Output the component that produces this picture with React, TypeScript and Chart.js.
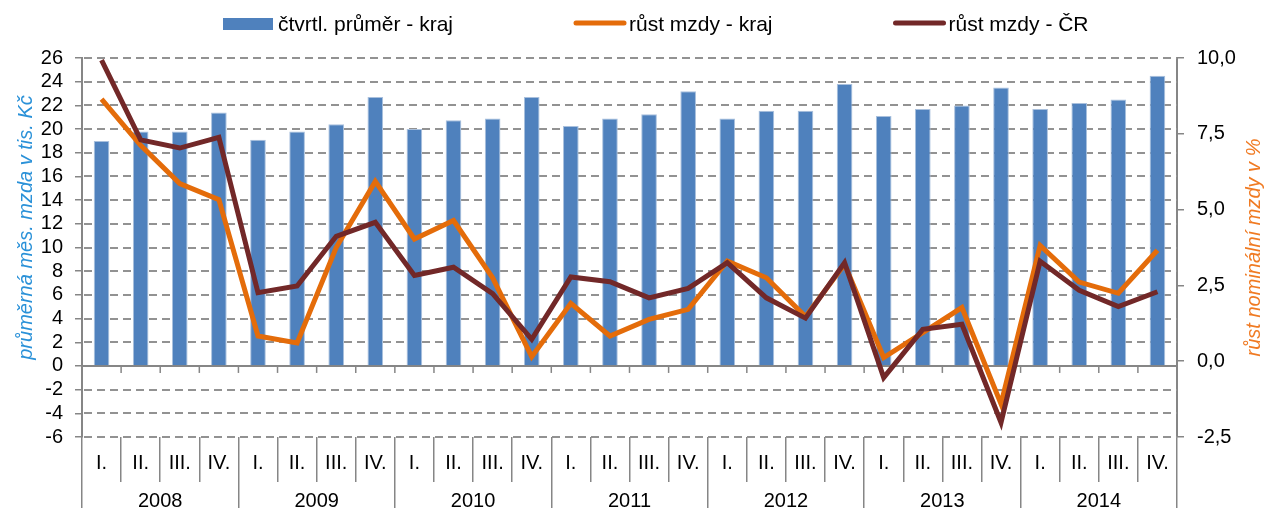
import React, { useEffect, useRef } from 'react';
import { Chart, registerables } from 'chart.js';

Chart.register(...registerables);

const FONT = '"Liberation Sans", Arial, sans-serif';

const quarters = [
  'I.', 'II.', 'III.', 'IV.', 'I.', 'II.', 'III.', 'IV.', 'I.', 'II.', 'III.', 'IV.', 'I.', 'II.',
  'III.', 'IV.', 'I.', 'II.', 'III.', 'IV.', 'I.', 'II.', 'III.', 'IV.', 'I.', 'II.', 'III.', 'IV.',
];
const years = ['2008', '2009', '2010', '2011', '2012', '2013', '2014'];

// čtvrtletní průměrná mzda v kraji (tis. Kč)
const avgWageRegion = [
  19.0, 19.8, 19.8, 21.4,
  19.1, 19.8, 20.4, 22.7,
  20.0, 20.75, 20.9, 22.7,
  20.25, 20.9, 21.25, 23.2,
  20.9, 21.55, 21.55, 23.8,
  21.1, 21.7, 22.0, 23.5,
  21.7, 22.2, 22.5, 24.5,
];
// růst mzdy – kraj (%)
const growthRegion = [
  8.64, 7.12, 5.86, 5.33,
  0.83, 0.6, 3.75, 5.93,
  4.03, 4.64, 2.75, 0.15,
  1.91, 0.83, 1.38, 1.71,
  3.3, 2.75, 1.47, 3.2,
  0.12, 0.94, 1.77, -1.41,
  3.82, 2.61, 2.24, 3.66,
];
// růst mzdy – ČR (%)
const growthCR = [
  9.93, 7.3, 7.03, 7.38,
  2.26, 2.48, 4.12, 4.58,
  2.83, 3.1, 2.23, 0.72,
  2.78, 2.62, 2.09, 2.4,
  3.25, 2.09, 1.42, 3.25,
  -0.54, 1.05, 1.22, -2.02,
  3.3, 2.34, 1.8, 2.29,
];

const seriesLabels = ['čtvrtl. průměr - kraj', 'růst mzdy - kraj', 'růst mzdy - ČR'];
const leftTitle = 'průměrná měs. mzda v tis. Kč';
const rightTitle = 'růst nominální mzdy v %';

const BAR_BLUE = '#4F81BD';
const ORANGE = '#E46C0A';
const BROWN = '#722828';
const AXIS_GREY = '#868686';
const GRID_GREY = '#929292';

const extrasPlugin = {
  id: 'extras',
  beforeDatasetsDraw(chart: any) {
    const { ctx, chartArea } = chart;
    const xs = chart.scales.x;
    const ys = chart.scales.y;
    const y0 = ys.getPixelForValue(0);
    const n = xs.ticks.length;
    ctx.save();
    // dashed horizontal grid lines at the left-axis ticks
    ctx.strokeStyle = GRID_GREY;
    ctx.lineWidth = 2;
    ctx.setLineDash([8, 5]);
    ys.ticks.forEach((t: any) => {
      if (t.value === 0) return;
      const y = Math.round(ys.getPixelForValue(t.value));
      ctx.beginPath();
      ctx.moveTo(chartArea.left + 2, y);
      ctx.lineTo(chartArea.right, y);
      ctx.stroke();
    });
    ctx.setLineDash([]);
    // solid zero axis line
    ctx.strokeStyle = AXIS_GREY;
    ctx.lineWidth = 2;
    ctx.beginPath();
    ctx.moveTo(chartArea.left, y0);
    ctx.lineTo(chartArea.right, y0);
    ctx.stroke();
    // tick marks on the zero line
    ctx.lineWidth = 1.5;
    for (let i = 0; i <= n; i++) {
      const x = xs.getPixelForValue(i - 0.5);
      ctx.beginPath();
      ctx.moveTo(x, y0);
      ctx.lineTo(x, y0 + 7);
      ctx.stroke();
    }
    ctx.restore();
  },
  afterDraw(chart: any) {
    const { ctx, chartArea } = chart;
    ctx.save();
    // legend
    ctx.font = `21px ${FONT}`;
    ctx.textBaseline = 'middle';
    ctx.textAlign = 'left';
    const ly = 24;
    let x = 223;
    chart.data.datasets.forEach((ds: any) => {
      if (ds.type === 'bar') {
        ctx.fillStyle = ds.backgroundColor;
        ctx.fillRect(x, ly - 6, 50, 12);
      } else {
        ctx.strokeStyle = ds.borderColor;
        ctx.lineWidth = 5;
        ctx.lineCap = 'round';
        ctx.beginPath();
        ctx.moveTo(x + 2, ly - 1);
        ctx.lineTo(x + 50, ly - 1);
        ctx.stroke();
      }
      ctx.fillStyle = '#000';
      ctx.fillText(ds.label, x + 55, ly + 1);
      x += 55 + ctx.measureText(ds.label).width + 121;
    });
    // axis titles
    const midY = (chartArea.top + chartArea.bottom) / 2;
    ctx.font = `italic 20px ${FONT}`;
    ctx.textAlign = 'center';
    ctx.textBaseline = 'middle';
    ctx.fillStyle = '#2A91D8';
    ctx.translate(26, midY - 20);
    ctx.rotate(-Math.PI / 2);
    ctx.fillText(leftTitle, 0, 0);
    ctx.restore();
    ctx.save();
    ctx.font = `italic 20px ${FONT}`;
    ctx.textAlign = 'center';
    ctx.textBaseline = 'middle';
    ctx.fillStyle = '#F07A22';
    ctx.translate(1254, midY);
    ctx.rotate(-Math.PI / 2);
    ctx.fillText(rightTitle, 0, 0);
    ctx.restore();
  },
};

export default function App() {
  const canvasRef = useRef<HTMLCanvasElement | null>(null);

  useEffect(() => {
    document.body.style.margin = '0';
    const canvas = canvasRef.current;
    if (!canvas) return;
    Chart.defaults.font.family = FONT;

    const chart = new Chart(canvas, {
      data: {
        labels: quarters,
        datasets: [
          {
            type: 'bar',
            label: seriesLabels[0],
            data: avgWageRegion,
            backgroundColor: BAR_BLUE,
            borderColor: '#A9C0DD',
            borderWidth: 1,
            barPercentage: 0.4,
            categoryPercentage: 1,
            yAxisID: 'y',
            xAxisID: 'x',
            order: 3,
          },
          {
            type: 'line',
            label: seriesLabels[1],
            data: growthRegion,
            borderColor: ORANGE,
            backgroundColor: ORANGE,
            borderWidth: 5,
            pointRadius: 0,
            tension: 0,
            yAxisID: 'y1',
            xAxisID: 'x',
            order: 2,
          },
          {
            type: 'line',
            label: seriesLabels[2],
            data: growthCR,
            borderColor: BROWN,
            backgroundColor: BROWN,
            borderWidth: 5,
            pointRadius: 0,
            tension: 0,
            yAxisID: 'y1',
            xAxisID: 'x',
            order: 1,
          },
        ],
      } as any,
      options: {
        responsive: false,
        animation: false,
        layout: { padding: { top: 58, left: 0, right: 0, bottom: 0 } },
        plugins: {
          legend: { display: false },
          tooltip: { enabled: false },
        },
        scales: {
          x: {
            type: 'category',
            position: 'bottom',
            offset: true,
            weight: 0,
            grid: {
              offset: true,
              drawOnChartArea: false,
              drawTicks: true,
              tickLength: 45,
              color: AXIS_GREY,
              lineWidth: 1.5,
            },
            border: { display: false },
            ticks: {
              autoSkip: false,
              maxRotation: 0,
              minRotation: 0,
              padding: -31,
              color: '#000',
              font: { size: 20, family: FONT },
            },
            afterFit: (s: any) => {
              s.height = 45;
            },
          },
          x2: {
            type: 'category',
            position: 'bottom',
            labels: years,
            offset: true,
            weight: 1,
            grid: {
              offset: true,
              drawOnChartArea: false,
              drawTicks: true,
              tickLength: 26,
              color: AXIS_GREY,
              lineWidth: 1.5,
            },
            border: { display: false },
            ticks: {
              autoSkip: false,
              maxRotation: 0,
              minRotation: 0,
              padding: -19,
              color: '#000',
              font: { size: 20, family: FONT },
            },
            afterFit: (s: any) => {
              s.height = 26;
            },
          },
          y: {
            type: 'linear',
            position: 'left',
            min: -6,
            max: 26,
            ticks: {
              stepSize: 2,
              autoSkip: false,
              padding: 12,
              color: '#000',
              font: { size: 20, family: FONT },
            },
            grid: {
              drawOnChartArea: false,
              drawTicks: true,
              tickLength: 7,
              color: AXIS_GREY,
              lineWidth: 1.5,
            },
            border: { display: true, color: AXIS_GREY, width: 2 },
            afterFit: (s: any) => {
              s.width = 82;
            },
          },
          y1: {
            type: 'linear',
            position: 'right',
            min: -2.5,
            max: 10,
            ticks: {
              stepSize: 2.5,
              autoSkip: false,
              padding: 13,
              color: '#000',
              font: { size: 20, family: FONT },
              callback: (v: any) => Number(v).toFixed(1).replace('.', ','),
            },
            grid: {
              drawOnChartArea: false,
              drawTicks: true,
              tickLength: 7,
              color: AXIS_GREY,
              lineWidth: 1.5,
            },
            border: { display: true, color: AXIS_GREY, width: 2 },
            afterFit: (s: any) => {
              s.width = 88;
            },
          },
        },
      } as any,
      plugins: [extrasPlugin],
    });

    return () => {
      chart.destroy();
    };
  }, []);

  return (
    <div style={{ width: 1265, height: 508, position: 'relative', background: '#fff' }}>
      <canvas ref={canvasRef} width={1265} height={508} />
    </div>
  );
}
